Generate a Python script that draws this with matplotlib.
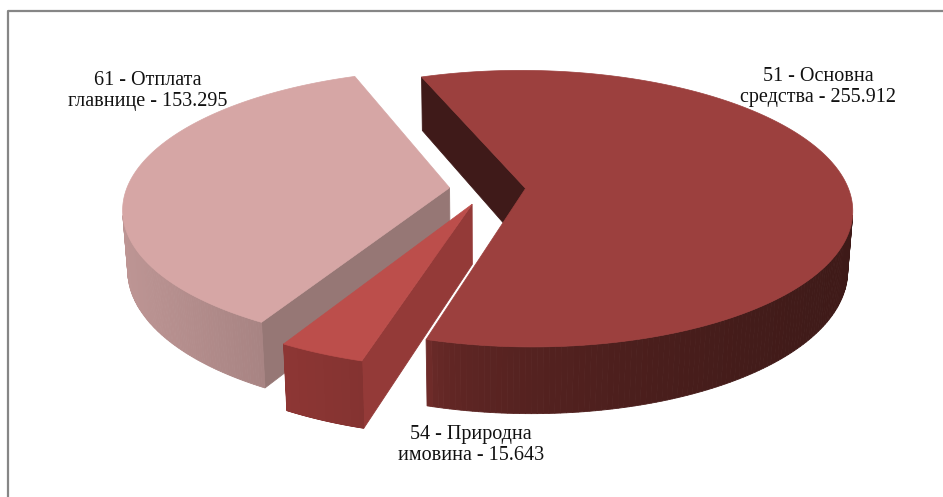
import numpy as np
import matplotlib
matplotlib.use('Agg')
import matplotlib.pyplot as plt
from matplotlib.patches import Polygon
from matplotlib.colors import to_rgb

# data (Excel order: first slice starts near 12 o'clock, clockwise)
names = ['51 - Основна\nсредства - 255.912',
         '54 - Природна\nимовина - 15.643',
         '61 - Отплата\nглавнице - 153.295']
values = [255.912, 15.643, 153.295]

# styles
top_colors = ['#9C403E', '#BC4E4B', '#D6A6A5']
side_left = ['#6E2B29', '#8D3634', '#BD9594']
side_right = ['#3E1A18', '#843331', '#A88483']
side_gamma = [0.45, 1.0, 1.0]
radial_colors = ['#3F1A19', '#943A38', '#967775']
explode = [0.118, 0.12, 0.118]

# 3d view
start_deg = -20.5
elev = np.radians(24.8)
dist = 6.2
thick = 0.205
scale = 323.0
cx, cy = 487.5, 189.0
cam = np.array([0.0, -dist * np.cos(elev), dist * np.sin(elev)])


def project(p):
    X, Y, Z = p
    depth = dist + Y * np.cos(elev) - Z * np.sin(elev)
    sx = X * dist / depth
    sy = (Y * np.sin(elev) + Z * np.cos(elev)) * dist / depth
    return cx + scale * sx, cy - scale * sy


def rim(off, phi, z):
    a = np.radians(phi)
    return np.array([off[0] + np.sin(a), off[1] + np.cos(a), z])


fig = plt.figure(figsize=(9.43, 4.97), dpi=100)
ax = fig.add_axes([0, 0, 1, 1])
ax.set_xlim(0, 943)
ax.set_ylim(497, 0)
ax.axis('off')

total = sum(values)
bounds = start_deg + np.concatenate([[0], np.cumsum(values)]) / total * 360.0

slices = []
for i in range(len(values)):
    a0, a1 = bounds[i], bounds[i + 1]
    mid = np.radians((a0 + a1) / 2)
    off = np.array([explode[i] * np.sin(mid), explode[i] * np.cos(mid), 0.0])
    slices.append((i, a0, a1, off))

# farthest slice first
slices.sort(key=lambda s: -(s[3][1] + 0.5 * np.cos(np.radians((s[1] + s[2]) / 2))))

for i, a0, a1, off in slices:
    ctop = off.copy()
    cbot = off + np.array([0, 0, -thick])

    # radial faces
    for phi, sign in [(a0, -1), (a1, 1)]:
        a = np.radians(phi)
        normal = np.array([sign * np.cos(a), -sign * np.sin(a), 0.0])
        mid_pt = (ctop + rim(off, phi, -thick / 2)) / 2
        if normal @ (cam - mid_pt) > 0:
            pts = [ctop, rim(off, phi, 0), rim(off, phi, -thick), cbot]
            ax.add_patch(Polygon([project(p) for p in pts], closed=True,
                                 fc=radial_colors[i], ec=radial_colors[i], lw=0.6))

    # outer wall strips
    phis = np.linspace(a0, a1, 240)
    strips = []
    for p0, p1 in zip(phis[:-1], phis[1:]):
        pm = (p0 + p1) / 2
        a = np.radians(pm)
        normal = np.array([np.sin(a), np.cos(a), 0.0])
        if normal @ (cam - rim(off, pm, -thick / 2)) > 0:
            quad = [project(rim(off, p0, 0)), project(rim(off, p1, 0)),
                    project(rim(off, p1, -thick)), project(rim(off, p0, -thick))]
            strips.append(quad)
    if strips:
        xs = [np.mean([q[0] for q in quad]) for quad in strips]
        xmin, xmax = min(xs), max(xs)
        cl, cr = np.array(to_rgb(side_left[i])), np.array(to_rgb(side_right[i]))
        for quad, x in zip(strips, xs):
            t = (x - xmin) / max(xmax - xmin, 1e-6)
            t = t ** side_gamma[i]
            col = cl + (cr - cl) * t
            ax.add_patch(Polygon(quad, closed=True, fc=col, ec=col, lw=0.6))

    # top face
    arc = [project(rim(off, p, 0)) for p in np.linspace(a0, a1, 300)]
    ax.add_patch(Polygon([project(ctop)] + arc, closed=True,
                         fc=top_colors[i], ec=top_colors[i], lw=0.5))

# data labels
label_pos = [(818, 87), (471, 445), (148, 91)]
for name, (lx, ly) in zip(names, label_pos):
    ax.text(lx, ly, name, ha='center', va='center', fontsize=14.5,
            family='Liberation Serif', color='#111111', linespacing=1.1)

# chart frame
ax.plot([8, 8, 960], [520, 11, 11], color='#868686', lw=1.6,
        solid_capstyle='butt', clip_on=False)

fig.savefig('out.png', dpi=100)
